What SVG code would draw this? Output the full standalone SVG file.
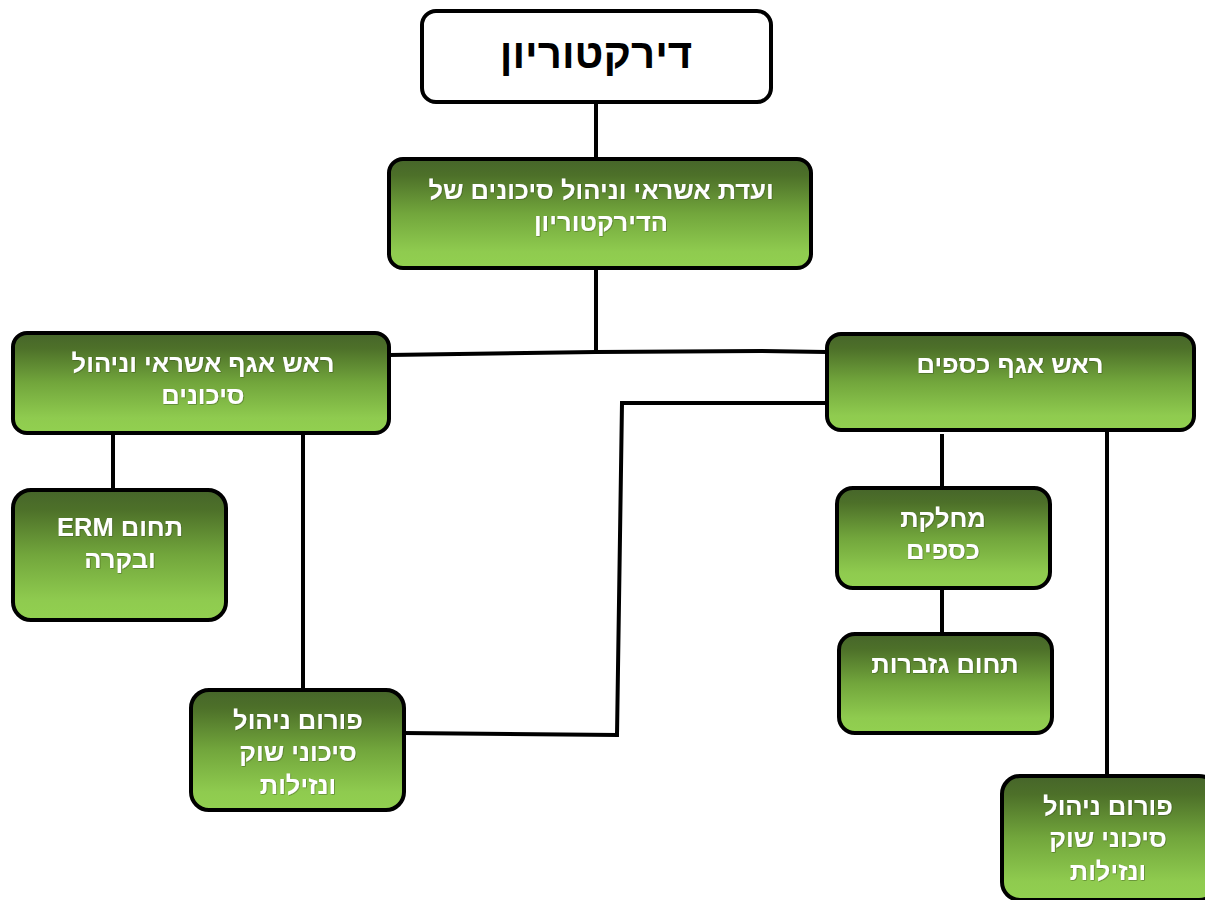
<svg xmlns="http://www.w3.org/2000/svg" width="1205" height="900" viewBox="0 0 1205 900">
<defs>
<linearGradient id="g" x1="0" y1="0" x2="0" y2="1">
<stop offset="0" stop-color="#46652a"/>
<stop offset="0.15" stop-color="#4d7029"/>
<stop offset="0.5" stop-color="#72a63c"/>
<stop offset="0.85" stop-color="#8fcb4f"/>
<stop offset="1" stop-color="#92d050"/>
</linearGradient>
<filter id="sh" x="-5%" y="-20%" width="110%" height="140%">
<feDropShadow dx="0.6" dy="0.6" stdDeviation="0.4" flood-color="#2a3a18" flood-opacity="0.6"/>
</filter>
</defs>
<style>
.box{fill:url(#g);stroke:#000;stroke-width:4}
.top{fill:#fff;stroke:#000;stroke-width:4}
.t{font-family:"Liberation Sans","DejaVu Sans",sans-serif;font-weight:bold;font-size:25.5px;fill:#fff;text-anchor:middle;filter:url(#sh)}
.tt{font-family:"Liberation Sans","DejaVu Sans",sans-serif;font-weight:bold;font-size:42px;fill:#000;text-anchor:middle}
.c{fill:none;stroke:#000;stroke-width:4;stroke-linejoin:miter}
</style>
<g id="connectors">
<line class="c" x1="596" y1="102" x2="596" y2="158"/>
<line class="c" x1="596" y1="268" x2="596" y2="353"/>
<polyline class="c" points="389,355 596,352 762,351 826,352"/>
<polyline class="c" points="826,403 622,403 617,735 404,733"/>
<line class="c" x1="113" y1="433" x2="113" y2="489"/>
<line class="c" x1="303" y1="433" x2="303" y2="689"/>
<line class="c" x1="942" y1="434" x2="942" y2="487"/>
<line class="c" x1="942" y1="588" x2="942" y2="633"/>
<line class="c" x1="1107" y1="430" x2="1107" y2="775"/>
</g>
<g id="n1">
<rect class="top" x="422" y="11" width="349" height="91" rx="14"/>
<text class="tt" x="596" y="68">דירקטוריון</text>
</g>
<g id="n2">
<rect class="box" x="389" y="159" width="422" height="109" rx="14"/>
<text class="t" x="601" y="199">ועדת אשראי וניהול סיכונים של</text>
<text class="t" x="601" y="231">הדירקטוריון</text>
</g>
<g id="n3">
<rect class="box" x="13" y="333" width="376" height="100" rx="14"/>
<text class="t" x="203" y="372">ראש אגף אשראי וניהול</text>
<text class="t" x="203" y="404">סיכונים</text>
</g>
<g id="n4">
<rect class="box" x="827" y="334" width="367" height="96" rx="14"/>
<text class="t" x="1010" y="373">ראש אגף כספים</text>
</g>
<g id="n5">
<rect class="box" x="13" y="490" width="213" height="130" rx="18"/>
<text class="t" x="120" y="536">ERM תחום</text>
<text class="t" x="120" y="568">ובקרה</text>
</g>
<g id="n6">
<rect class="box" x="191" y="690" width="213" height="120" rx="18"/>
<text class="t" x="298" y="729">פורום ניהול</text>
<text class="t" x="298" y="761">סיכוני שוק</text>
<text class="t" x="298" y="794">ונזילות</text>
</g>
<g id="n7">
<rect class="box" x="837" y="488" width="213" height="100" rx="16"/>
<text class="t" x="943" y="527">מחלקת</text>
<text class="t" x="943" y="559">כספים</text>
</g>
<g id="n8">
<rect class="box" x="839" y="634" width="213" height="99" rx="16"/>
<text class="t" x="945" y="673">תחום גזברות</text>
</g>
<g id="n9">
<rect class="box" x="1002" y="776" width="215" height="124" rx="18"/>
<text class="t" x="1108" y="815">פורום ניהול</text>
<text class="t" x="1108" y="847">סיכוני שוק</text>
<text class="t" x="1108" y="880">ונזילות</text>
</g>
</svg>
